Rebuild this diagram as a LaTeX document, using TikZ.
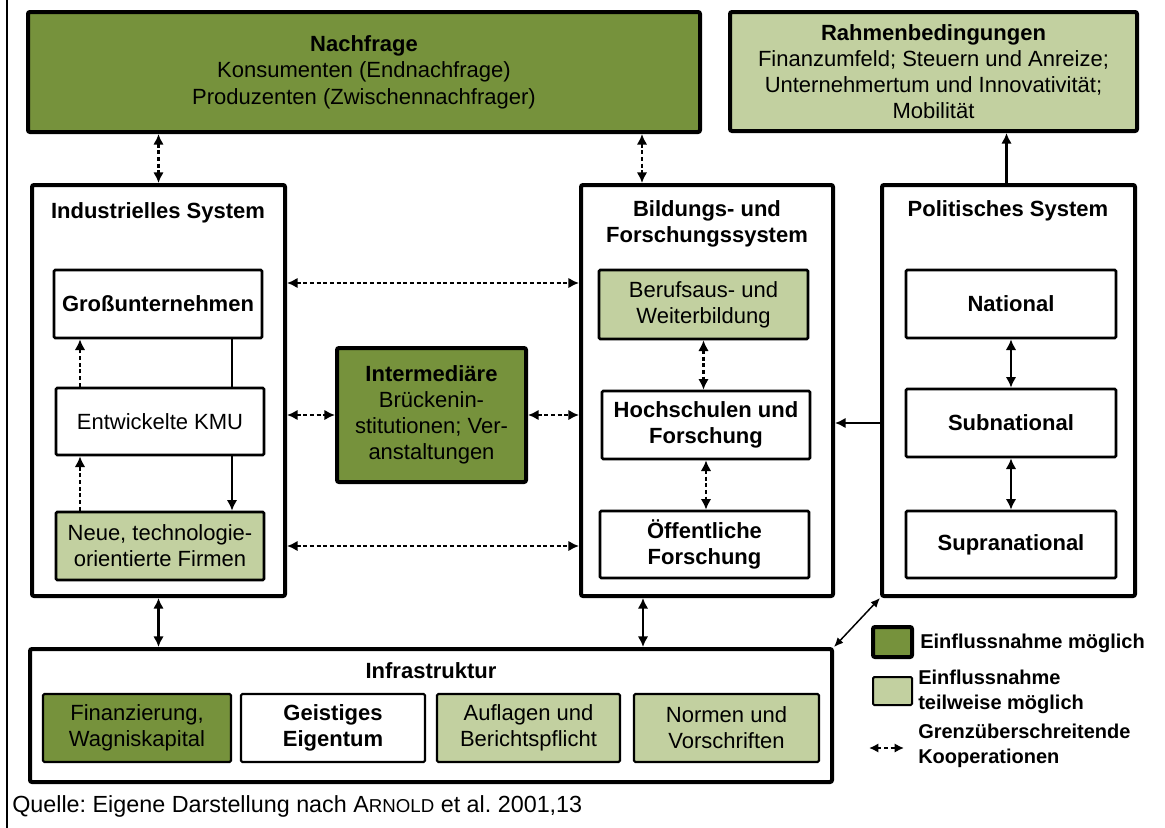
\documentclass[tikz,border=0pt]{standalone}
\usepackage{fontspec}
\setmainfont{Liberation Sans}
\usetikzlibrary{arrows.meta,calc}
\definecolor{dg}{RGB}{118,146,60}
\definecolor{lg}{RGB}{194,208,160}
\frenchspacing
\newcommand{\fsn}{\fontsize{16.5}{19.5}\selectfont}
\newcommand{\fsl}{\fontsize{15}{18.5}\selectfont}
% box by corners (pixel coordinates): name, style, x1, y1, x2, y2, text
\newcommand{\bx}[7]{%
  \pgfmathsetmacro\bxcx{(#3+#5)/2}%
  \pgfmathsetmacro\bxcy{(#4+#6)/2}%
  \pgfmathsetmacro\bxw{(#5-#3)*0.75}%
  \pgfmathsetmacro\bxh{(#6-#4)*0.75}%
  \node[#2, minimum width=\bxw pt, minimum height=\bxh pt] (#1) at (\bxcx,\bxcy) {#7};}
\begin{document}
\begin{tikzpicture}[x=0.75pt,y=-0.75pt,
  bigbox/.style={draw=black, line width=3pt, rounded corners=1.5pt, inner sep=0pt, align=center, font=\fsn},
  inbox/.style={draw=black, line width=2pt, rounded corners=1pt, inner sep=0pt, align=center, font=\fsn},
  smbox/.style={draw=black, line width=1.6pt, rounded corners=1pt, inner sep=0pt, align=center, font=\fsn},
  titletext/.style={font=\fsn\bfseries, align=center, inner sep=0pt},
  legtext/.style={font=\fsl\bfseries, align=left, inner sep=0pt, anchor=west},
  dda/.style={{Latex[length=8pt,width=8pt]}-{Latex[length=8pt,width=8pt]}, line width=2pt, dash pattern=on 3pt off 2pt},
  dsa/.style={-{Latex[length=8pt,width=8pt]}, line width=2pt, dash pattern=on 3pt off 2pt},
  sda/.style={{Latex[length=8pt,width=8pt]}-{Latex[length=8pt,width=8pt]}, line width=2.2pt},
  sa/.style={-{Latex[length=8pt,width=8pt]}, line width=1.8pt},
  plain/.style={line width=1.5pt}
]
\useasboundingbox (0,0) rectangle (1165,828);
% left frame line
\draw[line width=1pt] (7,0) -- (7,828);

% top boxes
\bx{nach}{bigbox, fill=dg, font=\fontsize{16.5}{20}\selectfont}{28}{12}{700}{132}{{\bfseries Nachfrage}\\Konsumenten (Endnachfrage)\\Produzenten (Zwischennachfrager)}
\bx{rahm}{bigbox, fill=lg}{730}{12}{1137}{131}{{\bfseries Rahmenbedingungen}\\Finanzumfeld; Steuern und Anreize;\\Unternehmertum und Innovativität;\\Mobilität}

% system boxes
\bx{ind}{bigbox}{32}{185}{285}{596}{}
\bx{bild}{bigbox}{581}{185}{833}{596}{}
\bx{pol}{bigbox}{882}{185}{1135}{596}{}
\bx{infra}{bigbox}{30}{649}{832}{782}{}

\node[titletext] (indt) at (158,213) {Industrielles System};
\node[titletext] (bildt) at (707,224) {Bildungs- und\\Forschungssystem};
\node[titletext] (polt) at (1008,211) {Politisches System};
\node[titletext] (infrat) at (431,671) {Infrastruktur};

% industrial system
\bx{gross}{inbox, font=\fsn\bfseries}{54}{270}{262}{338}{Großunternehmen}
\bx{kmu}{inbox}{56}{388}{264}{455}{Entwickelte KMU}
\bx{neue}{inbox, fill=lg}{56}{512}{264}{580}{Neue, technologie-\\orientierte Firmen}

% intermediary
\bx{inter}{bigbox, fill=dg}{337}{348}{526}{482}{{\bfseries Intermediäre}\\Brückenin-\\stitutionen; Ver-\\anstaltungen}

% education and research
\bx{beruf}{inbox, fill=lg}{599}{270}{808}{339}{Berufsaus- und\\Weiterbildung}
\bx{hoch}{inbox, font=\fsn\bfseries}{602}{391}{810}{459}{Hochschulen und\\Forschung}
\bx{oeff}{inbox, font=\fsn\bfseries}{600}{511}{809}{578}{Öffentliche\\Forschung}

% political system
\bx{nat}{inbox, font=\fsn\bfseries}{906}{270}{1116}{338}{National}
\bx{sub}{inbox, font=\fsn\bfseries}{906}{389}{1116}{457}{Subnational}
\bx{supra}{inbox, font=\fsn\bfseries}{906}{511}{1116}{578}{Supranational}

% infrastructure
\bx{fin}{smbox, fill=dg}{43}{694}{231}{762}{Finanzierung,\\Wagniskapital}
\bx{geist}{smbox, font=\fsn\bfseries}{241}{694}{425}{762}{Geistiges\\Eigentum}
\bx{aufl}{smbox, fill=lg}{437}{694}{620}{762}{Auflagen und\\Berichtspflicht}
\bx{norm}{smbox, fill=lg}{634}{694}{819}{762}{Normen und\\Vorschriften}

% helper coordinates
\coordinate (ytop) at (0,283);
\coordinate (xl) at (80,0);
\coordinate (xr) at (232,0);

% connectors
\draw[dda] (nach.south -| ind.north) -- (ind.north);
\draw[dda] ($(nach.south -| bild.north)+(-65,0)$) -- ($(bild.north)+(-65,0)$);
\draw[sa] ($(pol.north)+(-2,0)$) -- ($(rahm.south -| pol.north)+(-2,0)$);

\draw[dda] (ind.east |- ytop) -- (bild.west |- ytop);
\draw[dda] (ind.east |- inter.west) -- (inter.west);
\draw[dda] (inter.east) -- (bild.west |- inter.east);
\draw[dda] (ind.east |- neue.east) -- (bild.west |- neue.east);
\draw[sa] (pol.west |- sub.west) -- (bild.east |- sub.west);

\draw[dsa] (kmu.north -| xl) -- (gross.south -| xl);
\draw[plain] (gross.south -| xr) -- (kmu.north -| xr);
\draw[sa] (kmu.south -| xr) -- (neue.north -| xr);
\draw[dsa] (neue.north -| xl) -- (kmu.south -| xl);

\draw[dda] (beruf.south) -- (hoch.north -| beruf.south);
\draw[dda] (hoch.south) -- (oeff.north -| hoch.south);

\draw[sda] (nat.south) -- (sub.north);
\draw[sda] (sub.south) -- (supra.north);

\draw[sda] (ind.south) -- (infra.north -| ind.south);
\draw[sda] ($(bild.south)+(-64,0)$) -- ($(infra.north -| bild.south)+(-64,0)$);
\draw[{Latex[length=7pt,width=6pt]}-{Latex[length=7pt,width=6pt]}, line width=1.1pt] (pol.south west) -- (infra.north east);

% legend
\bx{leg1}{draw=black, line width=3pt, fill=dg, rounded corners=1.5pt, inner sep=0pt}{873}{627}{912}{657}{}
\node[legtext] (leg1t) at (920,643) {Einflussnahme möglich};
\bx{leg2}{draw=black, line width=1.5pt, fill=lg, rounded corners=1pt, inner sep=0pt}{873}{677}{912}{705}{}
\node[legtext] (leg2t) at (918,692) {Einflussnahme\\teilweise möglich};
\coordinate (la) at (869,748);
\coordinate (lb) at (904,748);
\draw[dda, {Latex[length=7pt,width=7pt]}-{Latex[length=7pt,width=7pt]}] (la) -- (lb);
\node[legtext] (leg3t) at (918,746) {Grenzüberschreitende\\Kooperationen};

% caption
\node[anchor=west, font=\fontsize{17.5}{20}\selectfont, inner sep=0pt] (cap) at (12,806) {Quelle: Eigene Darstellung nach A{\fontsize{14}{16}\selectfont RNOLD} et al. 2001,13};
\end{tikzpicture}
\end{document}
